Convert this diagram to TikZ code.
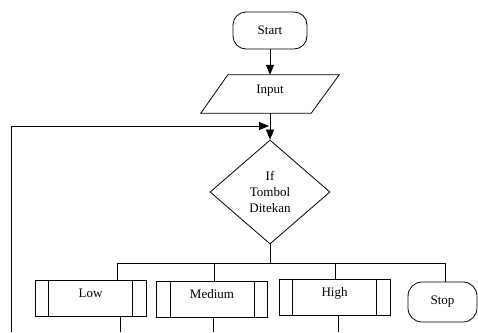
\documentclass[tikz,border=0pt]{standalone}
\usepackage{fontspec}
\setmainfont{Liberation Serif}
\usetikzlibrary{shapes.geometric,arrows.meta,calc}
\begin{document}
\begin{tikzpicture}[x=1pt,y=-1pt,
  line/.style={draw=black,line width=0.8pt},
  arr/.style={line,-{Triangle[length=10pt,width=8pt]}},
  txt/.style={font=\fontsize{13}{16}\selectfont},
  term/.style={line,txt,rounded corners=13pt,inner sep=0pt},
  sub/.style={line,txt,minimum width=111pt,minimum height=36pt,inner sep=0pt,text height=9pt,text depth=11pt}
]
\useasboundingbox (0,0) rectangle (478,332);
% start
\node[term,minimum width=74pt,minimum height=37pt] (start) at (270,30.5) {Start};
% input
\node[txt,minimum width=138pt,minimum height=38pt,inner sep=0pt,text height=9pt,text depth=11pt] (input) at (270,94) {Input};
\draw[line] ([xshift=27pt]input.north west) -- (input.north east) -- ([xshift=-28pt]input.south east) -- (input.south west) -- cycle;
% decision
\node[diamond,line,txt,minimum width=120pt,minimum height=104pt,inner sep=0pt,aspect=1.15,align=center] (dec) at (270,192) {If\\Tombol\\Ditekan};
% boxes
\node[sub] (low) at (90.5,298) {Low};
\node[sub] (med) at (212,299) {Medium};
\node[sub] (high) at (334.5,297.5) {High};
\foreach \n in {low,med,high}{
  \draw[line] ([xshift=14pt]\n.north west) -- ([xshift=14pt]\n.south west);
  \draw[line] ([xshift=-14pt]\n.north east) -- ([xshift=-14pt]\n.south east);
}
\node[term,rounded corners=14pt,minimum width=69pt,minimum height=40pt] (stop) at (442.5,302) {Stop};
% connectors
\draw[arr] (start) -- (input);
\draw[arr] (input) -- (dec);
\coordinate (loopbot) at (11,332);
\coordinate (merge) at (269,126);
\draw[arr] (loopbot) |- (merge);
\coordinate (busL) at (117,263);
\coordinate (busR) at (445,263);
\coordinate (busM) at (214,263);
\coordinate (busH) at (335,263);
\draw[line] (dec.south) -- (dec.south |- busL);
\draw[line] (busL) -- (busR);
\draw[line] (busL) -- (busL |- low.north);
\draw[line] (busM) -- (busM |- med.north);
\draw[line] (busH) -- (busH |- high.north);
\draw[line] (busR) -- (busR |- stop.north);
\coordinate (lowout) at (120,332);
\coordinate (medout) at (213,332);
\coordinate (highout) at (338,332);
\draw[line] (low.south -| lowout) -- (lowout);
\draw[line] (med.south -| medout) -- (medout);
\draw[line] (high.south -| highout) -- (highout);
\end{tikzpicture}
\end{document}
